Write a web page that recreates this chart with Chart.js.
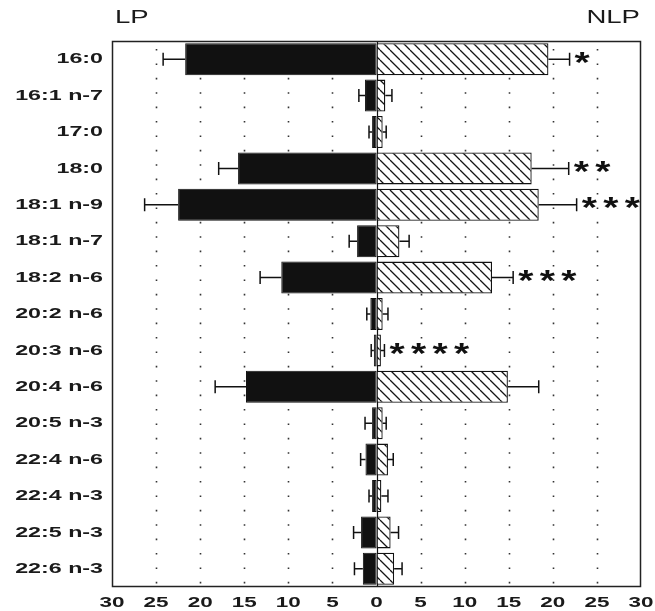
<!DOCTYPE html>
<html>
<head>
<meta charset="utf-8">
<script src="https://cdn.jsdelivr.net/npm/chart.js@4.4.1/dist/chart.umd.min.js"></script>
<style>
  html, body { margin: 0; padding: 0; background: #fff; }
  #wrap { width: 655px; height: 611px; position: relative; }
</style>
</head>
<body>
<div id="wrap"><canvas id="c"></canvas></div>
<script>
// ---- data ----
const categories = ["16:0", "16:1 n-7", "17:0", "18:0", "18:1 n-9", "18:1 n-7", "18:2 n-6",
  "20:2 n-6", "20:3 n-6", "20:4 n-6", "20:5 n-3", "22:4 n-6", "22:4 n-3", "22:5 n-3", "22:6 n-3"];
const lpValues  = [21.7, 1.3, 0.5, 15.7, 22.5, 2.2, 10.8, 0.7, 0.3, 14.8, 0.5, 1.25, 0.5, 1.75, 1.55];
const lpSD      = [2.5, 0.7, 0.35, 2.2, 3.8, 0.9, 2.4, 0.4, 0.3, 3.5, 0.8, 0.55, 0.35, 0.85, 0.95];
const nlpValues = [19.5, 1.0, 0.7, 17.6, 18.4, 2.6, 13.1, 0.7, 0.5, 14.9, 0.7, 1.3, 0.55, 1.6, 2.0];
const nlpSD     = [2.4, 0.75, 0.4, 4.2, 4.3, 1.1, 2.4, 0.6, 0.4, 3.5, 0.4, 0.6, 0.75, 0.9, 0.9];
const significance = ["*", "", "", "**", "***", "", "***", "", "****", "", "", "", "", "", ""];
const xMin = -30, xMax = 30, xStep = 5;
const leftTitle = "LP", rightTitle = "NLP";

// ---- helpers ----
const FONT = '"Liberation Sans", Arial, Helvetica, sans-serif';
function stretchText(ctx, text, x, y, align, sx, font, baseline) {
  ctx.save();
  ctx.font = font;
  ctx.textAlign = align;
  ctx.textBaseline = baseline || 'middle';
  ctx.translate(x, y);
  ctx.scale(sx, 1);
  ctx.fillText(text, 0, 0);
  ctx.restore();
}
function makeHatch() {
  const s = 10;
  const c = document.createElement('canvas');
  c.width = s; c.height = s;
  const g = c.getContext('2d');
  g.fillStyle = '#fff';
  g.fillRect(0, 0, s, s);
  g.strokeStyle = '#151515';
  g.lineWidth = 1.3;
  g.beginPath();
  for (let k = -1; k <= 1; k++) {
    g.moveTo(0, k * s);
    g.lineTo(s, k * s + s);
  }
  g.stroke();
  return g.createPattern(c, 'repeat');
}

const decor = {
  id: 'decor',
  beforeDatasetsDraw(chart) {
    const ctx = chart.ctx, x = chart.scales.x, a = chart.chartArea;
    ctx.save();
    // dotted grid
    ctx.strokeStyle = '#333';
    ctx.lineWidth = 1.6;
    ctx.setLineDash([1.6, 12.8]);
    for (let v = xMin + xStep; v < xMax; v += xStep) {
      if (v === 0) continue;
      const px = Math.round(x.getPixelForValue(v)) + 0.5;
      ctx.beginPath();
      ctx.moveTo(px, a.top + 8);
      ctx.lineTo(px, a.bottom);
      ctx.stroke();
    }
    ctx.setLineDash([]);
    // zero line
    const z = Math.round(x.getPixelForValue(0)) + 0.5;
    ctx.strokeStyle = '#111';
    ctx.lineWidth = 1.2;
    ctx.beginPath();
    ctx.moveTo(z, a.top);
    ctx.lineTo(z, a.bottom);
    ctx.stroke();
    ctx.restore();
  },
  afterDatasetsDraw(chart) {
    const ctx = chart.ctx, x = chart.scales.x, y = chart.scales.y, a = chart.chartArea;
    ctx.save();
    // error bars
    ctx.strokeStyle = '#111';
    ctx.lineWidth = 1.5;
    const cap = 6.5;
    categories.forEach((cat, i) => {
      const py = y.getPixelForValue(i);
      const pairs = [[-lpValues[i], -(lpValues[i] + lpSD[i])], [nlpValues[i], nlpValues[i] + nlpSD[i]]];
      pairs.forEach(([v0, v1]) => {
        const p0 = x.getPixelForValue(v0), p1 = x.getPixelForValue(v1);
        ctx.beginPath();
        ctx.moveTo(p0, py);
        ctx.lineTo(p1, py);
        ctx.moveTo(p1, py - cap);
        ctx.lineTo(p1, py + cap);
        ctx.stroke();
      });
    });
    // significance stars
    ctx.fillStyle = '#111';
    categories.forEach((cat, i) => {
      const s = significance[i];
      if (!s) return;
      const py = y.getPixelForValue(i);
      const x0 = x.getPixelForValue(nlpValues[i] + nlpSD[i]) + 5;
      for (let k = 0; k < s.length; k++) {
        stretchText(ctx, '*', x0 + k * 21.5, py + 12.5, 'left', 1.3, 'bold 30px ' + FONT, 'alphabetic');
      }
    });
    // box
    ctx.strokeStyle = '#222';
    ctx.lineWidth = 1.5;
    ctx.strokeRect(a.left + 0.5, a.top + 0.5, a.right - a.left - 1, a.bottom - a.top - 1);
    // category labels
    ctx.fillStyle = '#1a1a1a';
    categories.forEach((cat, i) => {
      stretchText(ctx, cat, a.left - 9, y.getPixelForValue(i), 'right', 1.5, 'bold 15.5px ' + FONT);
    });
    // x tick labels
    for (let v = xMin; v <= xMax; v += xStep) {
      stretchText(ctx, String(Math.abs(v)), x.getPixelForValue(v), a.bottom + 15.5, 'center', 1.45, 'bold 15.5px ' + FONT);
    }
    // side titles
    stretchText(ctx, leftTitle, a.left + 3, 18, 'left', 1.45, '19px ' + FONT);
    stretchText(ctx, rightTitle, a.right - 1, 18, 'right', 1.45, '19px ' + FONT);
    ctx.restore();
  }
};

const ctx = document.getElementById('c').getContext('2d');
new Chart(ctx, {
  type: 'bar',
  data: {
    labels: categories,
    datasets: [
      { label: leftTitle, data: lpValues.map(v => -v), backgroundColor: '#111', borderColor: '#111',
        borderWidth: 1, borderSkipped: false, barPercentage: 0.88, categoryPercentage: 1 },
      { label: rightTitle, data: nlpValues, backgroundColor: makeHatch(), borderColor: '#111',
        borderWidth: 1.3, borderSkipped: false, barPercentage: 0.88, categoryPercentage: 1 }
    ]
  },
  options: {
    indexAxis: 'y',
    responsive: true,
    maintainAspectRatio: false,
    devicePixelRatio: 1,
    animation: false,
    layout: { padding: { top: 41, right: 14, left: 0, bottom: 0 } },
    plugins: { legend: { display: false }, tooltip: { enabled: false } },
    scales: {
      x: {
        stacked: true, min: xMin, max: xMax,
        ticks: { display: false, stepSize: xStep },
        grid: { display: false },
        border: { display: false },
        afterFit(s) { s.height = 24; }
      },
      y: {
        stacked: true,
        ticks: { display: false },
        grid: { display: false },
        border: { display: false },
        afterFit(s) { s.width = 112; }
      }
    }
  },
  plugins: [decor]
});
</script>
</body>
</html>
